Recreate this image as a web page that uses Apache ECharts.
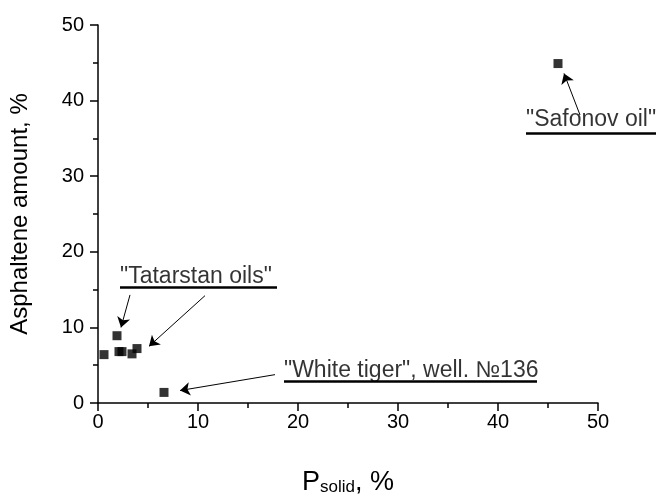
<!DOCTYPE html>
<html><head><meta charset="utf-8">
<script src="https://cdn.jsdelivr.net/npm/echarts@6/dist/echarts.min.js"></script>
<style>html,body{margin:0;padding:0;background:#fff}#c{width:660px;height:501px}</style>
</head><body><div id="c"></div>
<script>
// data points (P_solid %, asphaltene %)
const pSolid = [0.6, 1.9, 2.1, 2.4, 3.4, 3.9, 6.6, 46.0];
const asphaltene = [6.4, 8.9, 6.8, 6.8, 6.5, 7.2, 1.4, 44.9];
const xTicks = [0, 10, 20, 30, 40, 50];
const yTicks = [0, 10, 20, 30, 40, 50];

// annotation texts and their anchors (data coords: left edge, vertical centre)
const noteTexts = ['"Tatarstan oils"', '"White tiger", well. №136', '"Safonov oil"'];
const noteX = [2.2, 18.6, 42.8];
const noteY = [16.7, 4.3, 37.5];
// underline segments [x1, x2, y]
const ulX1 = [2.2, 18.6, 42.8];
const ulX2 = [17.9, 43.9, 55.8];
const ulY = [15.3, 2.85, 35.7];
// arrows [tailX, tailY, headX, headY]
const arTailX = [3.2, 10.7, 17.7, 48.2];
const arTailY = [14.3, 14.2, 3.75, 38.1];
const arHeadX = [2.3, 5.1, 8.2, 46.6];
const arHeadY = [10.0, 7.5, 1.65, 43.6];

const chart = echarts.init(document.getElementById('c'));
const font = 'Arial, "Liberation Sans", sans-serif';

const points = pSolid.map((x, i) => [x, asphaltene[i]]);
const notes = noteTexts.map((t, i) => ({ value: [noteX[i], noteY[i]], name: t }));
const underlines = ulY.map((y, i) => ({ coords: [[ulX1[i], y], [ulX2[i], y]], symbol: ['none', 'none'] }));
const arrows = arTailX.map((x, i) => ({ coords: [[x, arTailY[i]], [arHeadX[i], arHeadY[i]]] }));

chart.setOption({
  animation: false,
  backgroundColor: '#fff',
  grid: { left: 91.5, right: 62, top: 25, bottom: 98, containLabel: false },
  xAxis: {
    type: 'value', min: 0, max: 50, interval: 10,
    name: '{p|P}{s|solid}{p|, %}', nameLocation: 'middle', nameGap: 62,
    nameTextStyle: { rich: {
      p: { fontFamily: font, fontSize: 27, color: '#000', verticalAlign: 'bottom' },
      s: { fontFamily: font, fontSize: 17, color: '#000', padding: [14, 0, 0, 0], verticalAlign: 'bottom' }
    } },
    axisLine: { lineStyle: { color: '#000', width: 1.5 } },
    axisTick: { show: true, inside: false, length: 8, lineStyle: { color: '#000', width: 1.5 } },
    minorTick: { show: true, splitNumber: 2, length: 5, lineStyle: { color: '#000', width: 1.5 } },
    axisLabel: { color: '#000', fontFamily: font, fontSize: 20, margin: 9, formatter: v => xTicks.includes(v) ? String(v) : '' },
    splitLine: { show: false }
  },
  yAxis: {
    type: 'value', min: 0, max: 50, interval: 10,
    name: 'Asphaltene amount, %', nameLocation: 'middle', nameGap: 66, nameRotate: 90,
    nameTextStyle: { fontFamily: font, fontSize: 24, color: '#000' },
    axisLine: { show: true, lineStyle: { color: '#000', width: 1.5 } },
    axisTick: { show: true, inside: false, length: 8, lineStyle: { color: '#000', width: 1.5 } },
    minorTick: { show: true, splitNumber: 2, length: 5, lineStyle: { color: '#000', width: 1.5 } },
    axisLabel: { color: '#000', fontFamily: font, fontSize: 20, margin: 14, formatter: v => yTicks.includes(v) ? String(v) : '' },
    splitLine: { show: false }
  },
  series: [
    {
      type: 'scatter', data: points, symbol: 'rect', symbolSize: 9,
      itemStyle: { color: '#000' }, z: 5
    },
    {
      type: 'scatter', data: notes, symbolSize: 0, silent: true, clip: false,
      label: { show: true, position: 'right', distance: 0, formatter: p => p.name,
        fontFamily: font, fontSize: 23, color: '#000' }
    },
    {
      type: 'lines', coordinateSystem: 'cartesian2d', polyline: false, clip: false,
      data: underlines, symbol: ['none', 'none'],
      lineStyle: { color: '#000', width: 2.5, opacity: 1, curveness: 0 }
    },
    {
      type: 'lines', coordinateSystem: 'cartesian2d', polyline: false, clip: false,
      data: arrows, symbol: ['none', 'arrow'], symbolSize: [0, 10],
      lineStyle: { color: '#000', width: 1, opacity: 1, curveness: 0 }
    }
  ]
});
</script></body></html>
